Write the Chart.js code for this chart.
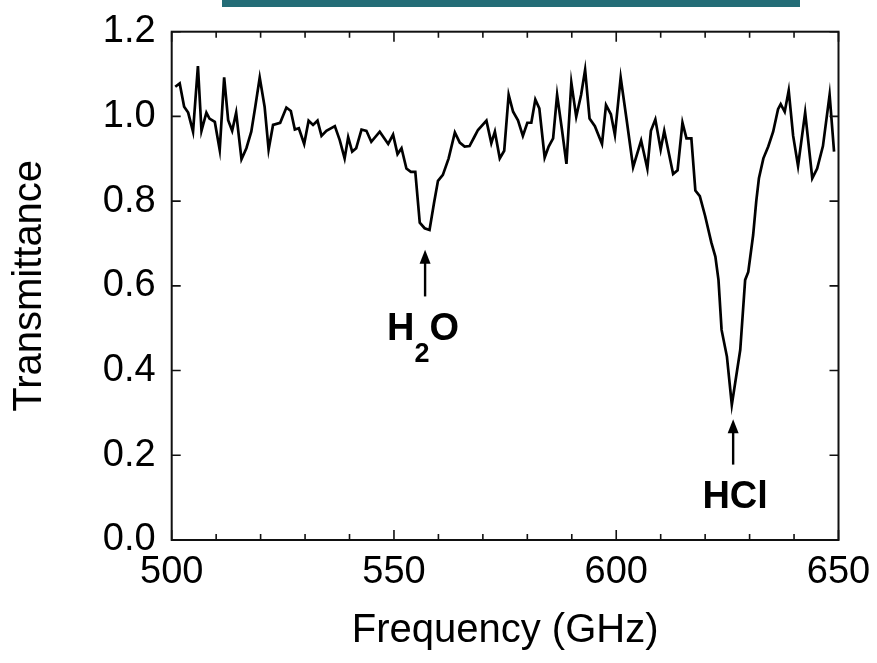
<!DOCTYPE html>
<html><head><meta charset="utf-8">
<script src="https://cdn.jsdelivr.net/npm/chart.js@4.4.1/dist/chart.umd.min.js"></script>
<style>html,body{margin:0;padding:0;background:#fff;}#wrap{width:877px;height:663px;position:relative;}</style>
</head><body><div id="wrap"><canvas id="c" width="877" height="663"></canvas></div>
<script>
const frequencyGHz = [
500.8,501.8,502.8,503.7,504.8,505.9,506.7,507.8,508.5,509.7,
510.8,511.8,512.7,513.6,514.5,515.7,516.8,517.9,518.8,519.8,
520.9,521.8,522.8,524.4,525.8,526.8,527.7,528.6,529.8,530.8,
531.8,532.8,533.7,534.8,536.7,537.8,538.9,539.7,540.6,541.5,
542.7,543.8,544.9,546.8,548.7,549.8,550.8,551.7,552.8,553.8,
554.8,555.8,556.9,558.0,559.0,559.9,561.0,562.3,563.7,564.8,
565.9,567.0,568.1,568.9,570.8,571.9,572.7,573.8,574.8,575.8,
576.8,577.9,579.0,580.0,580.9,581.8,582.7,583.9,584.8,585.8,
586.7,587.8,588.8,589.9,591.0,592.1,593.0,594.0,595.2,596.8,
597.7,598.8,599.7,601.0,602.3,603.8,605.6,607.0,607.8,608.8,
610.0,610.8,612.8,613.8,614.9,615.8,616.9,617.8,618.8,620.0,
621.4,622.3,623.0,623.7,624.9,626.0,627.9,629.0,629.7,630.8,
631.5,632.1,633.1,634.2,635.3,636.4,637.0,637.9,638.8,639.8,
640.9,642.5,644.1,645.2,646.5,648.0,649.0
];
const transmittance = [
1.070,1.078,1.023,1.009,0.964,1.119,0.966,1.009,0.995,0.987,
0.921,1.092,0.991,0.966,1.009,0.899,0.925,0.964,1.023,1.092,
1.023,0.922,0.980,0.985,1.021,1.013,0.969,0.972,0.935,0.990,
0.980,0.990,0.954,0.966,0.977,0.944,0.901,0.951,0.917,0.925,
0.969,0.966,0.940,0.964,0.935,0.957,0.911,0.925,0.877,0.869,
0.869,0.749,0.736,0.732,0.795,0.848,0.862,0.901,0.962,0.938,
0.929,0.930,0.952,0.968,0.990,0.937,0.964,0.901,0.919,1.051,
1.011,0.991,0.954,0.985,0.985,1.040,1.019,0.903,0.929,0.948,
1.051,0.968,0.888,1.080,0.999,1.051,1.110,0.995,0.977,0.935,
1.027,1.005,0.956,1.092,0.995,0.880,0.943,0.877,0.966,0.993,
0.922,0.966,0.864,0.873,0.985,0.948,0.948,0.825,0.812,0.765,
0.702,0.669,0.614,0.496,0.433,0.319,0.449,0.614,0.633,0.720,
0.800,0.854,0.901,0.929,0.964,1.017,1.029,1.011,1.061,0.954,
0.883,1.009,0.854,0.877,0.930,1.051,0.917
];
const xTickValues = [500, 550, 600, 650];
const yTickValues = [0, 0.2, 0.4, 0.6, 0.8, 1.0, 1.2];
const xMinorStep = 10;
const peakLabels = ['H2O', 'HCl'];
const peakFreqs = [557.0, 626.3];

const FONT = "'Liberation Sans', Arial, sans-serif";

const decorPlugin = {
  id: 'decor',
  afterDraw(chart) {
    const ctx = chart.ctx;
    const xs = chart.scales.x, ys = chart.scales.y;
    const a = chart.chartArea;
    ctx.save();
    ctx.fillStyle = '#246d77';
    ctx.fillRect(222, 0, 578, 7);
    ctx.strokeStyle = '#111';
    ctx.lineWidth = 2;
    ctx.strokeRect(a.left, a.top, a.right - a.left, a.bottom - a.top);
    ctx.lineWidth = 1.6;
    ctx.beginPath();
    for (let v = xs.min; v <= xs.max + 1e-9; v += xMinorStep) {
      const px = xs.getPixelForValue(v);
      const major = xTickValues.includes(v);
      const len = major ? 10 : 6;
      ctx.moveTo(px, a.bottom); ctx.lineTo(px, a.bottom - len);
      ctx.moveTo(px, a.top); ctx.lineTo(px, a.top + len);
    }
    yTickValues.forEach(v => {
      const py = ys.getPixelForValue(v);
      ctx.moveTo(a.left, py); ctx.lineTo(a.left + 9, py);
      ctx.moveTo(a.right, py); ctx.lineTo(a.right - 9, py);
    });
    ctx.stroke();
    const tips = [0.685, 0.285];
    const tails = [0.575, 0.178];
    const baselines = [0.472, 0.075];
    ctx.fillStyle = '#000';
    ctx.strokeStyle = '#000';
    peakLabels.forEach((lab, i) => {
      const px = xs.getPixelForValue(peakFreqs[i]);
      const tipY = ys.getPixelForValue(tips[i]);
      const tailY = ys.getPixelForValue(tails[i]);
      ctx.lineWidth = 2.4;
      ctx.beginPath(); ctx.moveTo(px, tailY); ctx.lineTo(px, tipY + 8); ctx.stroke();
      ctx.beginPath(); ctx.moveTo(px, tipY); ctx.lineTo(px - 5.5, tipY + 14); ctx.lineTo(px + 5.5, tipY + 14); ctx.closePath(); ctx.fill();
      const by = ys.getPixelForValue(baselines[i]);
      ctx.textBaseline = 'alphabetic';
      ctx.textAlign = 'left';
      if (lab === 'H2O') {
        const big = 'bold 38px ' + FONT, small = 'bold 27px ' + FONT;
        ctx.font = big; const wH = ctx.measureText('H').width; const wO = ctx.measureText('O').width;
        ctx.font = small; const w2 = ctx.measureText('2').width;
        let x0 = px - 2 - (wH + w2 + wO) / 2;
        ctx.font = big; ctx.fillText('H', x0, by);
        ctx.font = small; ctx.fillText('2', x0 + wH, by + 22);
        ctx.font = big; ctx.fillText('O', x0 + wH + w2, by);
      } else {
        ctx.font = 'bold 38px ' + FONT;
        ctx.textAlign = 'center';
        ctx.fillText(lab, px + 2, by);
      }
    });
    ctx.restore();
  }
};

new Chart(document.getElementById('c'), {
  type: 'line',
  data: {
    datasets: [{
      data: frequencyGHz.map((f, i) => ({ x: f, y: transmittance[i] })),
      borderColor: '#000',
      borderWidth: 2.7,
      pointRadius: 0,
      tension: 0,
      fill: false
    }]
  },
  plugins: [decorPlugin],
  options: {
    responsive: false,
    animation: false,
    devicePixelRatio: 1,
    layout: { padding: { top: 31.7, right: 38.5, left: 0, bottom: 0 } },
    plugins: { legend: { display: false }, tooltip: { enabled: false } },
    scales: {
      x: {
        type: 'linear', min: 500, max: 650,
        afterBuildTicks: s => { s.ticks = xTickValues.map(v => ({ value: v })); },
        afterFit: s => { s.height = 123; s.paddingLeft = 0; s.paddingRight = 0; },
        grid: { display: false, drawTicks: false },
        border: { display: false },
        ticks: { color: '#000', font: { family: FONT, size: 38 }, padding: 10, maxRotation: 0, autoSkip: false },
        title: { display: true, text: 'Frequency (GHz)', color: '#000', font: { family: FONT, size: 40 }, padding: { top: 0, bottom: 8 } }
      },
      y: {
        min: 0, max: 1.2,
        afterBuildTicks: s => { s.ticks = yTickValues.map(v => ({ value: v })); },
        afterFit: s => { s.width = 171.7; s.paddingTop = 0; s.paddingBottom = 0; },
        grid: { display: false, drawTicks: false },
        border: { display: false },
        ticks: { color: '#000', font: { family: FONT, size: 38 }, padding: 16, callback: v => Number(v).toFixed(1), autoSkip: false },
        title: { display: true, text: 'Transmittance', color: '#000', font: { family: FONT, size: 40 }, padding: { top: 6, bottom: 0 } }
      }
    }
  }
});
</script></body></html>
